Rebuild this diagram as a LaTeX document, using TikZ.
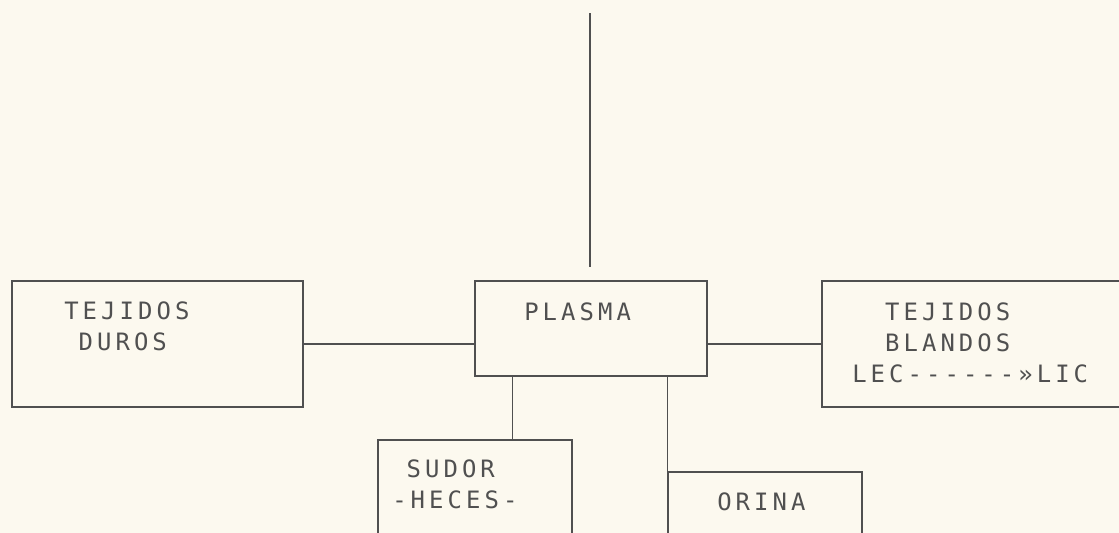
\documentclass[tikz,border=0pt]{standalone}
\usepackage{fontspec}
\newfontfamily\typewriter[LetterSpace=17, Ligatures=TeXOff]{DejaVu Sans Mono}
\usetikzlibrary{fit, calc}
\definecolor{paper}{HTML}{FCF9EF}
\definecolor{ink}{HTML}{505050}
\tikzset{
  box/.style={
    draw=ink,
    line width=1pt,
    inner sep=0pt
  },
  box text/.style={
    anchor=base west,
    inner sep=0pt,
    align=left,
    text=ink,
    font=\typewriter\fontsize{17pt}{22pt}\selectfont
  },
  link/.style={
    draw=ink,
    line width=1pt
  }
}

\begin{document}
\begin{tikzpicture}[x=0.025cm, y=-0.025cm]
    % hoja: 1 unidad = 1 pixel de la imagen
    \useasboundingbox[fill=paper] (0,0) rectangle (1119,533);

    % cajas
    \node[box, fit={(12,281) (303,407)}] (duros) {};
    \node[box, fit={(475,281) (707,376)}] (plasma) {};
    \node[box, fit={(822,281) (1140,407)}] (blandos) {};
    \node[box, fit={(378,440) (572,560)}] (sudor) {};
    \node[box, fit={(668,472) (862,560)}] (orina) {};

    % textos (base = ultima linea)
    \node[box text] (tduros) at (64,350) {TEJIDOS\\\phantom{T}DUROS};
    \node[box text] (tplasma) at (524,320) {PLASMA};
    \node[box text] (tblandos) at (852,382) {\phantom{LE}TEJIDOS\\\phantom{LE}BLANDOS\\LEC------»LIC};
    \node[box text] (tsudor) at (392,508) {\phantom{-}SUDOR\\-HECES-};
    \node[box text] (torina) at (717,510) {ORINA};

    % conexiones
    \coordinate (entrada) at (590,13);
    \draw[link] (entrada) -- ($(entrada |- plasma.north)+(0,-13)$);
    \draw[link] (duros.east) -- (duros.east -| plasma.west);
    \draw[link] (plasma.east |- blandos.west) -- (blandos.west);
    \coordinate (salida) at ($(plasma.south west)+(38,0)$);
    \draw[link] (salida) -- (salida |- sudor.north);
    \draw[link] (orina.north west |- plasma.south) -- (orina.north west);

  \end{tikzpicture}
\end{document}
